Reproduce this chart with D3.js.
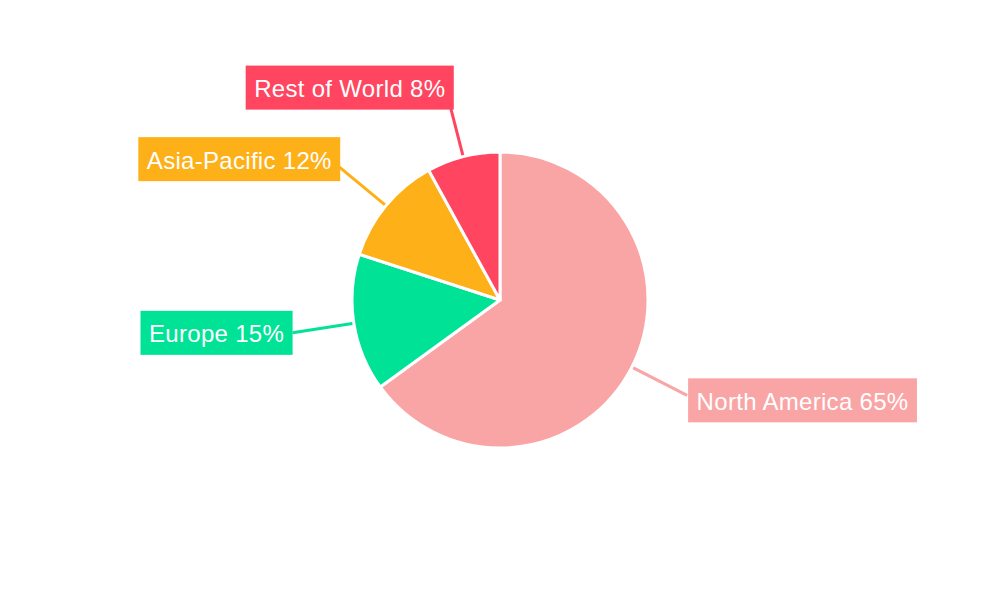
<!DOCTYPE html>
<html>
<head>
<meta charset="utf-8">
<script src="https://cdn.jsdelivr.net/npm/d3@7"></script>
<style>
  html, body { margin: 0; padding: 0; background: #fff; }
  svg { display: block; font-family: "Liberation Sans", Arial, sans-serif; }
</style>
</head>
<body>
<svg id="chart" width="1000" height="600"></svg>
<script>
const regions = ["North America", "Europe", "Asia-Pacific", "Rest of World"];
const shares = [65, 15, 12, 8];
const colors = ["#F9A5A6", "#00E396", "#FEB019", "#FF4560"];

const width = 1000, height = 600;
const cx = 500, cy = 300, radius = 148, labelRadius = 210;
const padX = 8.5, boxH = 44, fontSize = 24;
// small nudges of label boxes relative to leader end (layout only)
const boxNudgeY = [5, 0, -7, -9];
const boxNudgeX = [1, 0, 2, 6];

const svg = d3.select("#chart");
const g = svg.append("g").attr("transform", `translate(${cx},${cy})`);

const pie = d3.pie().sort(null).value(d => d.value);
const data = regions.map((r, i) => ({ name: r, value: shares[i], color: colors[i], i }));
const arcs = pie(data);
const arc = d3.arc().innerRadius(0).outerRadius(radius);

// leader lines
arcs.forEach(a => {
  const mid = (a.startAngle + a.endAngle) / 2;
  const x1 = Math.sin(mid) * radius, y1 = -Math.cos(mid) * radius;
  const x2 = Math.sin(mid) * labelRadius, y2 = -Math.cos(mid) * labelRadius;
  g.append("line")
    .attr("x1", x1).attr("y1", y1).attr("x2", x2).attr("y2", y2)
    .attr("stroke", a.data.color).attr("stroke-width", 3);
});

// slices
g.selectAll("path.slice").data(arcs).join("path")
  .attr("class", "slice")
  .attr("d", arc)
  .attr("fill", d => d.data.color)
  .attr("stroke", "#fff")
  .attr("stroke-width", 3)
  .attr("stroke-linejoin", "round");

// labels
arcs.forEach(a => {
  const mid = (a.startAngle + a.endAngle) / 2;
  const x = Math.sin(mid) * labelRadius, y = -Math.cos(mid) * labelRadius;
  const right = Math.sin(mid) >= 0;
  const lg = g.append("g");
  const rect = lg.append("rect").attr("fill", a.data.color);
  const txt = lg.append("text")
    .attr("fill", "#fff")
    .attr("font-size", fontSize)
    .attr("letter-spacing", 0.3)
    .attr("dominant-baseline", "central")
    .text(`${a.data.name} ${a.data.value}%`);
  const w = txt.node().getComputedTextLength() + padX * 2;
  const i = a.data.i;
  const left = (right ? x : x - w) + boxNudgeX[i];
  const top = y + boxNudgeY[i] - boxH / 2;
  rect.attr("x", left).attr("y", top).attr("width", w).attr("height", boxH);
  txt.attr("x", left + padX).attr("y", top + boxH / 2 + 1);
});
</script>
</body>
</html>
